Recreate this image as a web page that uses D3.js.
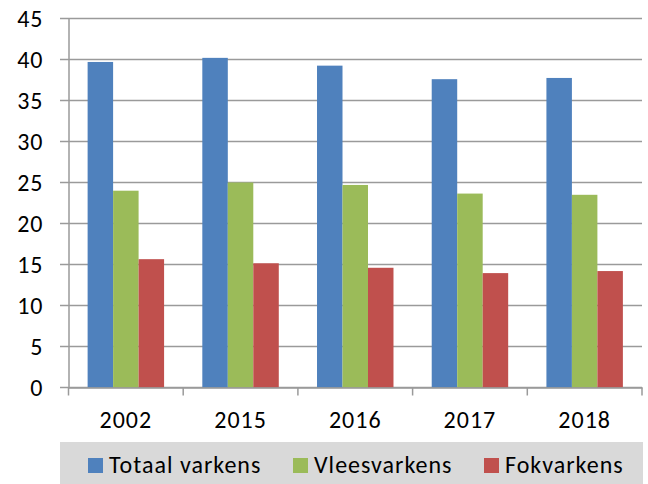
<!DOCTYPE html>
<html><head><meta charset="utf-8">
<script src="https://cdn.jsdelivr.net/npm/d3@7"></script>
<style>html,body{margin:0;padding:0;background:#fff}svg{display:block}</style>
</head><body>
<script>
const categories = ["2002","2015","2016","2017","2018"];
const seriesNames = ["Totaal varkens","Vleesvarkens","Fokvarkens"];
const totaal = [39.7, 40.2, 39.25, 37.6, 37.75];
const vlees = [24.0, 25.0, 24.7, 23.65, 23.5];
const fok = [15.65, 15.15, 14.6, 13.95, 14.2];
const yTicks = [0,5,10,15,20,25,30,35,40,45];
const colors = ["#4F81BD","#9BBB59","#C0504D"];

const W=648,H=484;
const font = "Carlito, Lato, 'Open Sans', sans-serif";
const svg=d3.select("body").append("svg").attr("width",W).attr("height",H);
const x0=68.5,x1=642,yTop=18.5,yBot=387.5;
const x=d3.scaleBand().domain(categories).range([x0,x1]).paddingInner(0).paddingOuter(0);
const inner=d3.scaleBand().domain(seriesNames).range([0,x.bandwidth()]).paddingOuter(0.75).paddingInner(0);
const y=d3.scaleLinear().domain([0,45]).range([yBot,yTop]);

// gridlines
svg.append("g").selectAll("line").data(yTicks).join("line")
 .attr("x1",60).attr("x2",x1).attr("y1",d=>y(d)).attr("y2",d=>y(d))
 .attr("stroke","#9a9a9a").attr("stroke-width",1.5);

const series=[totaal,vlees,fok];
const data=[];
categories.forEach((c,i)=>series.forEach((s,j)=>data.push({c,name:seriesNames[j],v:s[i],j})));
svg.append("g").selectAll("rect").data(data).join("rect")
 .attr("x",d=>x(d.c)+inner(d.name)).attr("width",inner.bandwidth())
 .attr("y",d=>y(d.v)).attr("height",d=>y(0)-y(d.v))
 .attr("fill",d=>colors[d.j]);

// y axis
const ya=svg.append("g").attr("transform",`translate(${x0},0)`)
 .call(d3.axisLeft(y).tickValues(yTicks).tickSize(0).tickPadding(25));
ya.select(".domain").attr("stroke","#9a9a9a").attr("stroke-width",1.5);
ya.selectAll("text").attr("font-family",font).attr("font-size",24).attr("letter-spacing","1px").attr("fill","#000");

// x axis
const xa=svg.append("g").attr("transform",`translate(0,${yBot})`)
 .call(d3.axisBottom(x).tickSize(0).tickPadding(23));
xa.select(".domain").attr("stroke","#9a9a9a").attr("stroke-width",1.5);
xa.selectAll("text").attr("font-family",font).attr("font-size",24).attr("letter-spacing","1px").attr("fill","#000");
const bounds=categories.map(c=>x(c)).concat([x1]);
svg.append("g").selectAll("line").data(bounds).join("line")
 .attr("x1",d=>d).attr("x2",d=>d).attr("y1",yBot).attr("y2",yBot+8)
 .attr("stroke","#9a9a9a").attr("stroke-width",1.5);

// legend
const lg=svg.append("g");
lg.append("rect").attr("x",60).attr("y",442).attr("width",583).attr("height",42).attr("fill","#D9D9D9");
const lx=[88,293,484];
seriesNames.forEach((n,i)=>{
  lg.append("rect").attr("x",lx[i]).attr("y",458).attr("width",15).attr("height",15).attr("fill",colors[i]);
  lg.append("text").attr("x",lx[i]+21).attr("y",473).attr("font-family",font).attr("font-size",24).attr("letter-spacing","1px").attr("fill","#000").text(n);
});
</script>
</body></html>
